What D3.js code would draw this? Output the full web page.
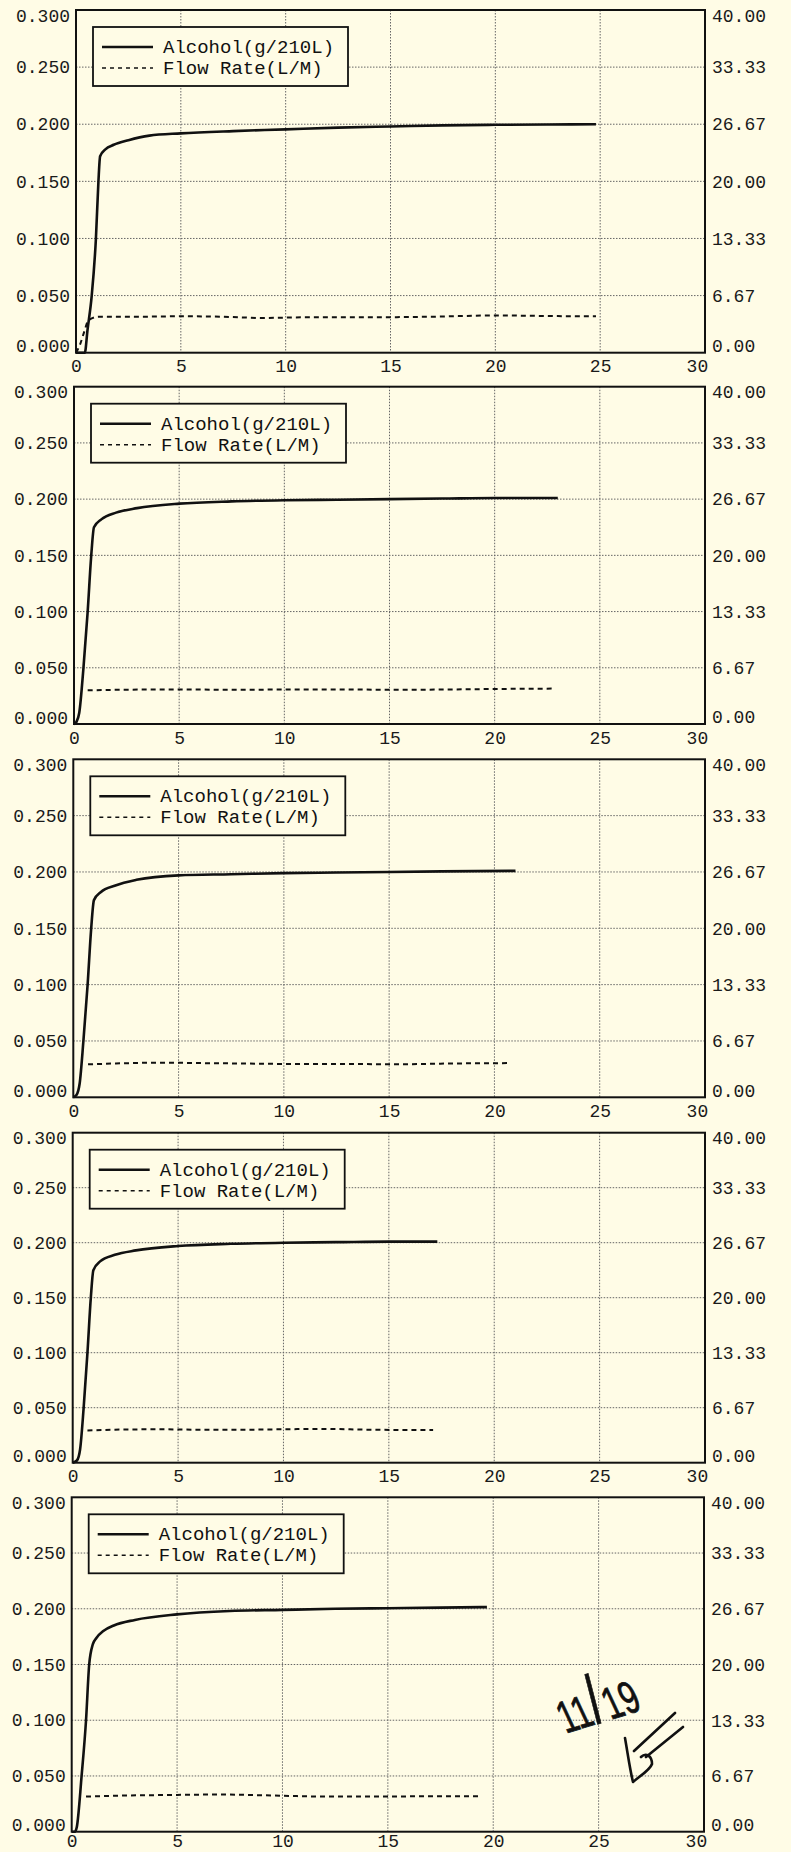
<!DOCTYPE html>
<html>
<head>
<meta charset="utf-8">
<script src="https://cdn.jsdelivr.net/npm/d3@7"></script>
<style>
  html, body { margin: 0; padding: 0; background: #fffce6; }
  svg { display: block; }
</style>
</head>
<body>
<script>
// ---------------- DATA ----------------
const xTickValues = [0, 5, 10, 15, 20, 25, 30];
const leftTickValues = [0, 0.05, 0.10, 0.15, 0.20, 0.25, 0.30];
const rightTickValues = [0, 6.67, 13.33, 20.00, 26.67, 33.33, 40.00];
const legendLabels = ["Alcohol(g/210L)", "Flow Rate(L/M)"];
const annotationParts = ["11", "/", "19"];

// Alcohol (g/210L) vs time (s)
const alcoholRun1 = [[0,0],[0.42,0],[0.55,0.02],[0.75,0.05],[0.95,0.10],[1.07,0.15],[1.15,0.172],[1.4,0.178],[1.8,0.182],[2.5,0.186],[3.5,0.190],[5,0.192],[7.5,0.194],[10,0.1955],[12.5,0.197],[15,0.198],[17.5,0.199],[20,0.1995],[22.5,0.1998],[24.8,0.200]];
const alcoholRun2 = [[0,0],[0.12,0.002],[0.25,0.01],[0.45,0.05],[0.65,0.10],[0.82,0.15],[0.95,0.175],[1.3,0.182],[2,0.188],[3,0.192],[5,0.196],[7.5,0.198],[10,0.199],[12.5,0.1995],[15,0.200],[17.5,0.2005],[20,0.201],[23,0.201]];
const alcoholRun3 = [[0,0],[0.15,0.002],[0.3,0.012],[0.48,0.05],[0.68,0.10],[0.85,0.15],[0.98,0.175],[1.3,0.182],[2,0.188],[3,0.193],[5,0.197],[7.5,0.198],[10,0.199],[12.5,0.1995],[15,0.200],[17.5,0.2005],[21,0.201]];
const alcoholRun4 = [[0,0],[0.2,0.002],[0.35,0.012],[0.52,0.05],[0.7,0.10],[0.86,0.15],[0.98,0.175],[1.3,0.183],[2,0.189],[3,0.193],[5,0.197],[7.5,0.199],[10,0.200],[12.5,0.2005],[15,0.201],[17.3,0.201]];
const alcoholRun5 = [[0,0],[0.15,0],[0.24,0.004],[0.47,0.05],[0.68,0.10],[0.83,0.15],[1.0,0.168],[1.18,0.174],[1.5,0.180],[2,0.185],[3,0.190],[5,0.195],[7.5,0.198],[10,0.199],[12.5,0.200],[15,0.2005],[17.5,0.201],[19.7,0.2015]];

// Flow rate (L/M) vs time (s)
const flowRun1 = [[0,0],[0.2,1.0],[0.4,2.5],[0.6,3.8],[1.1,4.2],[3,4.2],[5,4.25],[7,4.2],[9,4.05],[10,4.1],[12,4.15],[15,4.15],[17,4.2],[20,4.35],[22,4.3],[24,4.25],[24.8,4.25]];
const flowRun2 = [[0.65,4.0],[2,4.05],[5,4.1],[8,4.05],[10,4.1],[13,4.1],[15,4.05],[18,4.1],[20,4.15],[22.8,4.2]];
const flowRun3 = [[0.7,3.9],[2,4.0],[4,4.1],[6,4.05],[8,4.0],[10,3.95],[13,3.95],[15,3.9],[18,4.0],[20.75,4.05]];
const flowRun4 = [[0.7,3.9],[2,4.0],[4,4.05],[6,4.0],[8,4.0],[10,4.05],[12,4.1],[14,4.0],[17.1,3.95]];
const flowRun5 = [[0.68,4.2],[2,4.3],[5,4.4],[7,4.45],[10,4.3],[12,4.2],[15,4.2],[17,4.25],[19.45,4.25]];

const alcoholRuns = [alcoholRun1, alcoholRun2, alcoholRun3, alcoholRun4, alcoholRun5];
const flowRuns = [flowRun1, flowRun2, flowRun3, flowRun4, flowRun5];

// ---------------- LAYOUT ----------------
const W = 791, H = 1852;
const panelLayout = [
  {left: 76,   right: 705, top: 10,    bottom: 352.7, xPad: 7},
  {left: 74,   right: 705, top: 386.7, bottom: 724, xPad: 7},
  {left: 73.3, right: 705, top: 759.3, bottom: 1097.3, xPad: 7},
  {left: 72.7, right: 705, top: 1132.7, bottom: 1462.7, xPad: 7},
  {left: 71.7, right: 704, top: 1497.3, bottom: 1831.7, xPad: 3}
];
const FONT = "'Liberation Mono', 'DejaVu Sans Mono', monospace";
const INK = "#111";
const BG = "#fffce6";

const svg = d3.select("body").append("svg")
  .attr("width", W).attr("height", H)
  .attr("viewBox", `0 0 ${W} ${H}`);

svg.append("rect").attr("width", W).attr("height", H).attr("fill", BG);

panelLayout.forEach((p, i) => {
  const g = svg.append("g").attr("class", "panel panel-" + (i + 1));
  const x = d3.scaleLinear().domain([0, 30]).range([p.left, p.right]);
  const y = d3.scaleLinear().domain([0, 0.3]).range([p.bottom, p.top]);
  const y2 = d3.scaleLinear().domain([0, 40]).range([p.bottom, p.top]);

  // gridlines
  const grid = g.append("g").attr("class", "grid")
    .attr("stroke", "#666").attr("stroke-width", 1).attr("stroke-dasharray", "1.5,1.5");
  grid.selectAll("line.v").data(xTickValues.slice(1, -1)).join("line")
    .attr("class", "v")
    .attr("x1", d => x(d)).attr("x2", d => x(d))
    .attr("y1", p.top).attr("y2", p.bottom);
  grid.selectAll("line.h").data(leftTickValues.slice(1, -1)).join("line")
    .attr("class", "h")
    .attr("x1", p.left).attr("x2", p.right)
    .attr("y1", d => y(d)).attr("y2", d => y(d));

  // flow rate (dashed)
  const flowLine = d3.line().x(d => x(d[0])).y(d => y2(d[1])).curve(d3.curveMonotoneX);
  g.append("path").datum(flowRuns[i])
    .attr("d", flowLine)
    .attr("fill", "none").attr("stroke", INK).attr("stroke-width", 2)
    .attr("stroke-dasharray", "5,4");

  // alcohol (solid)
  const alcLine = d3.line().x(d => x(d[0])).y(d => y(d[1])).curve(d3.curveMonotoneX);
  g.append("path").datum(alcoholRuns[i])
    .attr("d", alcLine)
    .attr("fill", "none").attr("stroke", INK).attr("stroke-width", 2.6)
    .attr("stroke-linejoin", "round");

  // frame
  g.append("rect")
    .attr("x", p.left).attr("y", p.top)
    .attr("width", p.right - p.left).attr("height", p.bottom - p.top)
    .attr("fill", "none").attr("stroke", INK).attr("stroke-width", 2);

  // left axis
  const la = g.append("g").attr("transform", `translate(${p.left},0)`)
    .call(d3.axisLeft(y).tickValues(leftTickValues).tickFormat(d3.format(".3f")).tickSize(0).tickPadding(6));
  la.select(".domain").remove();
  la.selectAll("text").attr("font-family", FONT).attr("font-size", 18).attr("fill", "#1a1a1a")
    .attr("dy", d => d === 0 ? "-0.05em" : (d === 0.3 ? "0.62em" : "0.32em"));

  // right axis
  const ra = g.append("g").attr("transform", `translate(${p.right},0)`)
    .call(d3.axisRight(y2).tickValues(rightTickValues).tickFormat(d => d.toFixed(2)).tickSize(0).tickPadding(7));
  ra.select(".domain").remove();
  ra.selectAll("text").attr("font-family", FONT).attr("font-size", 18).attr("fill", "#1a1a1a")
    .attr("dy", d => d === 0 ? "-0.07em" : (d === 40 ? "0.62em" : "0.32em"));

  // bottom axis
  const ba = g.append("g").attr("transform", `translate(0,${p.bottom})`)
    .call(d3.axisBottom(x).tickValues(xTickValues).tickFormat(d3.format("d")).tickSize(0).tickPadding(p.xPad));
  ba.select(".domain").remove();
  ba.selectAll("text").attr("font-family", FONT).attr("font-size", 18).attr("fill", "#1a1a1a")
    .attr("dx", d => d === 30 ? "-0.45em" : "0");

  // legend
  const lg = g.append("g").attr("transform", `translate(${p.left + 17},${p.top + 17})`);
  lg.append("rect").attr("width", 255).attr("height", 59)
    .attr("fill", BG).attr("stroke", INK).attr("stroke-width", 1.8);
  lg.append("line").attr("x1", 9).attr("x2", 60).attr("y1", 20).attr("y2", 20)
    .attr("stroke", INK).attr("stroke-width", 2.4);
  lg.append("line").attr("x1", 9).attr("x2", 60).attr("y1", 41).attr("y2", 41)
    .attr("stroke", INK).attr("stroke-width", 1.6).attr("stroke-dasharray", "4,4");
  lg.selectAll("text").data(legendLabels).join("text")
    .attr("x", 70).attr("y", (d, k) => 26 + k * 21)
    .attr("font-family", FONT).attr("font-size", 19).attr("fill", INK)
    .text(d => d);
});

// handwritten annotation on the last panel
const ann = svg.append("g").attr("class", "handwriting");
const annText = ann.append("g")
  .attr("transform", "translate(597,1705) rotate(-17) skewX(8) scale(0.68,1)")
  .append("text")
  .attr("x", -60).attr("y", 18)
  .attr("font-family", "'Liberation Sans', sans-serif")
  .attr("fill", "#111").attr("stroke", "#111").attr("stroke-width", 0.8);
annText.selectAll("tspan").data(annotationParts).join("tspan")
  .attr("font-size", (d, k) => k === 1 ? 70 : 46)
  .attr("dx", (d, k) => k === 0 ? 0 : 1)
  .text(d => d);
ann.append("path")
  .attr("d", "M625,1738 C628,1755 630,1770 633,1782 C640,1776 650,1770 652,1764 C652,1756 646,1752 641,1757 M634,1751 L675,1713 M646,1757 L683,1727")
  .attr("fill", "none").attr("stroke", "#111").attr("stroke-width", 2.6)
  .attr("stroke-linecap", "round").attr("stroke-linejoin", "round");
</script>
</body>
</html>
